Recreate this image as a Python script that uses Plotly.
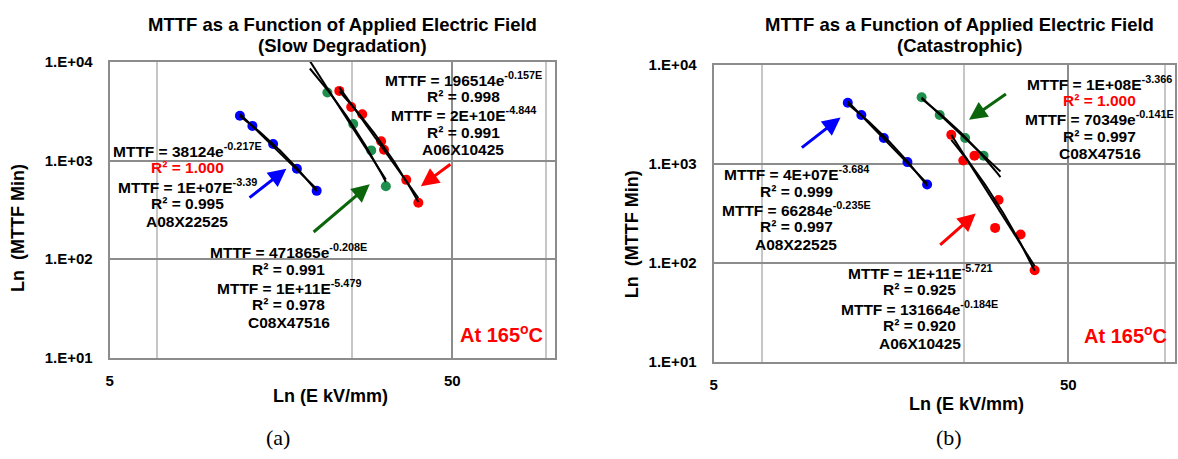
import numpy as np
import plotly.graph_objects as go

# ---------------- data: MTTF (min) vs applied field E (kV/mm), 165 C ----------------
# (a) slow degradation
a_A08_E = [12.0, 13.05, 15.0, 17.6, 20.1]
a_A08_mttf = [2850, 2245, 1473, 826, 492]
a_C08_E = [21.6, 25.7, 29.0, 32.0]
a_C08_mttf = [4898, 2349, 1267, 547]
a_A06_E = [23.4, 25.35, 27.3, 31.0, 31.6, 36.7, 39.8]
a_A06_mttf = [5088, 3491, 2943, 1566, 1288, 636, 373]

# (b) catastrophic
b_A08_E = [11.95, 13.05, 15.1, 17.6, 20.0]
b_A08_mttf = [4175, 3141, 1835, 1048, 622]
b_C08_E = [19.3, 21.7, 25.6, 28.85]
b_C08_mttf = [4732, 3141, 1835, 1218]
b_A06_E = [23.4, 25.3, 27.2, 31.1, 31.8, 36.7, 40.2]
b_A06_mttf = [1976, 1089, 1218, 227, 435, 195, 84.7]

# field span covered by each trendline (includes forecast where used)
a_trend_span = {"A08": (12.0, 20.1), "C08": (19.2, 32.0), "A06": (23.4, 39.8)}
b_trend_span = {"A08": (11.95, 20.0), "C08": (19.3, 32.2), "A06": (23.4, 40.2)}

x_ticks = [5, 50]
x_minor_grid = [6.86, 25.4, 94]
y_ticks = [10, 100, 1000, 10000]
y_tick_text = ["1.E+01", "1.E+02", "1.E+03", "1.E+04"]

BLUE, RED, GREEN = "#0000ff", "#ff0000", "#1f8f4e"
FONT = "Liberation Sans, Arial, sans-serif"
W, H = 1178, 459


def px(x):
    return x / W


def py(y):
    return 1 - y / H


def exp_fit(E, m, lo, hi):
    b, a = np.polyfit(E, np.log(m), 1)
    xs = np.linspace(lo, hi, 80)
    return xs, np.exp(a + b * xs)


def pow_fit(E, m, lo, hi):
    b, a = np.polyfit(np.log(E), np.log(m), 1)
    xs = np.linspace(lo, hi, 80)
    return xs, np.exp(a) * xs ** b


fig = go.Figure()

panels = [
    ("x", "y", [(a_A08_E, a_A08_mttf, BLUE, "A08"), (a_C08_E, a_C08_mttf, GREEN, "C08"),
                (a_A06_E, a_A06_mttf, RED, "A06")], a_trend_span),
    ("x2", "y2", [(b_A08_E, b_A08_mttf, BLUE, "A08"), (b_C08_E, b_C08_mttf, GREEN, "C08"),
                  (b_A06_E, b_A06_mttf, RED, "A06")], b_trend_span),
]

for xa, ya, series, span in panels:
    for E, m, col, key in series:
        fig.add_trace(go.Scatter(x=E, y=m, mode="markers", xaxis=xa, yaxis=ya,
                                 marker=dict(color=col, size=10), showlegend=False,
                                 name=key))
    for E, m, col, key in series:
        lo, hi = span[key]
        for fit in (exp_fit, pow_fit):
            xs, ys = fit(E, m, lo, hi)
            fig.add_trace(go.Scatter(x=xs, y=ys, mode="lines", xaxis=xa, yaxis=ya,
                                     line=dict(color="black", width=2),
                                     showlegend=False, hoverinfo="skip"))

axis_common = dict(
    type="log", showline=True, linecolor="#8c8c8c", linewidth=2, mirror=True,
    showgrid=True, gridcolor="#8c8c8c", gridwidth=1.5, zeroline=False, ticks="",
    tickfont=dict(family=FONT, size=15, color="black"),
)
x_common = dict(axis_common, range=[np.log10(5), 2], tickvals=x_ticks,
                ticktext=[f"<b>{t}</b>" for t in x_ticks], ticklabelstandoff=8,
                minor=dict(tickmode="array", tickvals=x_minor_grid, showgrid=True,
                           gridcolor="#c6c6c6", gridwidth=1.5, ticks=""))
y_common = dict(axis_common, range=[1, 4], tickvals=y_ticks,
                ticktext=[f"<b>{t}</b>" for t in y_tick_text], ticklabelstandoff=12)

fig.update_layout(
    width=W, height=H, margin=dict(l=0, r=0, t=0, b=0),
    paper_bgcolor="white", plot_bgcolor="white", showlegend=False,
    xaxis=dict(x_common, domain=[px(106), px(553.3)], anchor="y"),
    yaxis=dict(y_common, domain=[py(362), py(55)], anchor="x"),
    xaxis2=dict(x_common, domain=[px(712), px(1175)], anchor="y2"),
    yaxis2=dict(y_common, domain=[py(366.7), py(58.3)], anchor="x2"),
)

ann = []


def text(x, y, s, size=15.5, color="black", bold=True, family=FONT, angle=0):
    ann.append(dict(xref="paper", yref="paper", x=px(x), y=py(y),
                    text=f"<b>{s}</b>" if bold else s, showarrow=False,
                    xanchor="center", yanchor="middle", textangle=angle,
                    font=dict(family=family, size=size, color=color)))


def block(cx, y0, lines, step=18.4):
    for i, (s, col) in enumerate(lines):
        text(cx, y0 + i * step, s, color=col)


def arrow(head, tail, color):
    ann.append(dict(xref="paper", yref="paper", x=px(head[0]), y=py(head[1]),
                    ax=tail[0] - head[0], ay=tail[1] - head[1], text="",
                    showarrow=True, arrowhead=2, arrowsize=1.2, arrowwidth=3,
                    arrowcolor=color, standoff=0))


# titles
text(340, 16, "MTTF as a Function of Applied Electric Field", size=18.5)
text(340, 37.5, "(Slow Degradation)", size=18.5)
text(959, 16, "MTTF as a Function of Applied Electric Field", size=18.5)
text(959, 37.5, "(Catastrophic)", size=18.5)

# axis titles
text(327.5, 401.7, "Ln (E kV/mm)", size=18)
text(965.5, 410, "Ln (E kV/mm)", size=18)
text(14, 227.5, "Ln  (MTTF Min)", size=18, angle=-90)
text(630, 234, "Ln  (MTTF Min)", size=18, angle=-90)

# panel captions
text(275, 445, "(a)", size=22, bold=False, family="Liberation Serif, Times New Roman, serif")
text(948, 445, "(b)", size=22, bold=False, family="Liberation Serif, Times New Roman, serif")

# temperature tags
text(499, 336.7, "At 165<sup>o</sup>C", size=20, color=RED)
text(1125, 338.3, "At 165<sup>o</sup>C", size=20, color=RED)

# fit equations, panel (a)
block(460.7, 72.7, [("MTTF = 196514e<sup>-0.157E</sup>", "black"), ("R² = 0.998", "black"),
                    ("MTTF = 2E+10E<sup>-4.844</sup>", "black"), ("R² = 0.991", "black"),
                    ("A06X10425", "black")])
block(184, 146.7, [("MTTF = 38124e<sup>-0.217E</sup>", "black"), ("R² = 1.000", RED),
                   ("MTTF = 1E+07E<sup>-3.39</sup>", "black"), ("R² = 0.995", "black"),
                   ("A08X22525", "black")])
block(285.7, 251.7, [("MTTF = 471865e<sup>-0.208E</sup>", "black"), ("R² = 0.991", "black"),
                     ("MTTF = 1E+11E<sup>-5.479</sup>", "black"), ("R² = 0.978", "black"),
                     ("C08X47516", "black")])

# fit equations, panel (b)
block(1099.3, 76.7, [("MTTF = 1E+08E<sup>-3.366</sup>", "black"), ("R² = 1.000", RED),
                     ("MTTF = 70349e<sup>-0.141E</sup>", "black"), ("R² = 0.997", "black"),
                     ("C08X47516", "black")])
block(795, 170.7, [("MTTF = 4E+07E<sup>-3.684</sup>", "black"), ("R² = 0.999", "black"),
                   ("MTTF = 66284e<sup>-0.235E</sup>", "black"), ("R² = 0.997", "black"),
                   ("A08X22525", "black")])
block(919, 273.3, [("MTTF = 1E+11E<sup>-5.721</sup>", "black"), ("R² = 0.925", "black"),
                   ("MTTF = 131664e<sup>-0.184E</sup>", "black"), ("R² = 0.920", "black"),
                   ("A06X10425", "black")])

# pointer arrows
arrow((283.3, 166), (245, 196), BLUE)
arrow((367, 182), (309.4, 231), "#0b650b")
arrow((418.3, 184), (449.3, 161), RED)
arrow((839.4, 112.7), (799.2, 144), BLUE)
arrow((968.3, 115), (1006.7, 88.3), "#0b650b")
arrow((975, 212.3), (938, 245), RED)

fig.update_layout(annotations=ann)
fig.write_html("out.html")
